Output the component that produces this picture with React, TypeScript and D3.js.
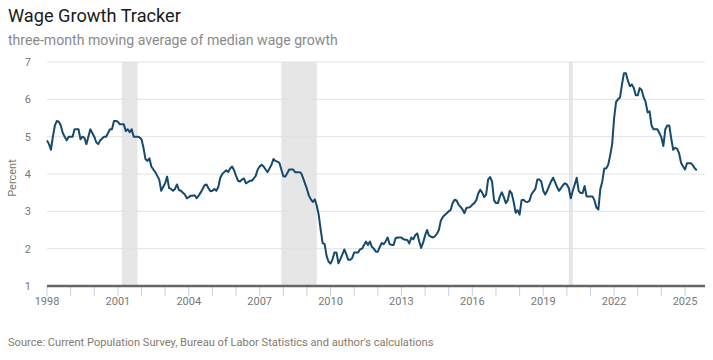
import React from "react";
import * as d3 from "d3";

const START_YEAR = 1998;
// Monthly values (three-month moving average), one row per year, Jan..Dec
const v1998 = [4.9, 4.8, 4.65, 5.0, 5.3, 5.42, 5.4, 5.3, 5.1, 5.0, 4.9, 5.0];
const v1999 = [5.0, 5.0, 5.2, 5.2, 5.2, 4.93, 5.0, 4.97, 4.8, 5.0, 5.2, 5.1];
const v2000 = [5.0, 4.85, 4.8, 4.9, 4.95, 5.0, 5.0, 5.1, 5.2, 5.2, 5.42, 5.42];
const v2001 = [5.4, 5.33, 5.33, 5.33, 5.15, 5.2, 5.12, 5.2, 5.0, 5.0, 5.0, 4.98];
const v2002 = [4.93, 4.7, 4.4, 4.35, 4.42, 4.2, 4.12, 4.05, 3.95, 3.85, 3.55, 3.65];
const v2003 = [3.75, 3.93, 3.62, 3.6, 3.55, 3.6, 3.72, 3.57, 3.55, 3.5, 3.45, 3.35];
const v2004 = [3.38, 3.42, 3.42, 3.43, 3.35, 3.42, 3.5, 3.6, 3.7, 3.72, 3.62, 3.54];
const v2005 = [3.55, 3.6, 3.55, 3.65, 3.9, 4.0, 4.05, 4.1, 4.05, 4.15, 4.2, 4.1];
const v2006 = [3.95, 3.82, 3.8, 3.85, 3.88, 3.75, 3.78, 3.82, 3.82, 3.88, 3.95, 4.12];
const v2007 = [4.2, 4.25, 4.2, 4.12, 4.05, 4.15, 4.25, 4.4, 4.35, 4.33, 4.3, 4.12];
const v2008 = [3.94, 3.93, 4.02, 4.12, 4.12, 4.12, 4.05, 4.05, 4.05, 4.03, 3.9, 3.75];
const v2009 = [3.6, 3.42, 3.32, 3.25, 3.32, 3.15, 2.9, 2.5, 2.15, 2.12, 1.8, 1.65];
const v2010 = [1.6, 1.72, 1.9, 1.9, 1.61, 1.72, 1.85, 1.98, 1.85, 1.7, 1.7, 1.75];
const v2011 = [1.9, 1.9, 1.9, 1.98, 2.0, 2.1, 2.19, 2.1, 2.19, 2.05, 2.0, 1.92];
const v2012 = [1.92, 2.05, 2.15, 2.12, 2.2, 2.3, 2.12, 2.1, 2.1, 2.28, 2.3, 2.3];
const v2013 = [2.3, 2.25, 2.24, 2.23, 2.14, 2.3, 2.25, 2.36, 2.41, 2.2, 2.02, 2.16];
const v2014 = [2.35, 2.5, 2.35, 2.32, 2.3, 2.33, 2.4, 2.5, 2.75, 2.85, 2.9, 2.95];
const v2015 = [3.0, 3.04, 3.22, 3.31, 3.29, 3.18, 3.12, 3.05, 2.95, 3.09, 3.1, 3.12];
const v2016 = [3.18, 3.22, 3.3, 3.48, 3.58, 3.5, 3.38, 3.45, 3.85, 3.92, 3.8, 3.3];
const v2017 = [3.22, 3.22, 3.4, 3.51, 3.38, 3.22, 3.3, 3.55, 3.48, 3.25, 2.96, 3.03];
const v2018 = [2.91, 3.3, 3.31, 3.26, 3.25, 3.28, 3.45, 3.53, 3.6, 3.85, 3.85, 3.8];
const v2019 = [3.55, 3.45, 3.55, 3.68, 3.8, 3.9, 3.78, 3.65, 3.55, 3.62, 3.7, 3.75];
const v2020 = [3.72, 3.62, 3.35, 3.55, 3.72, 3.9, 3.55, 3.49, 3.49, 3.68, 3.4, 3.4];
const v2021 = [3.4, 3.4, 3.3, 3.1, 3.05, 3.6, 3.8, 4.15, 4.15, 4.25, 4.5, 4.8];
const v2022 = [5.5, 5.93, 6.0, 6.05, 6.4, 6.7, 6.7, 6.5, 6.35, 6.4, 6.3, 6.11];
const v2023 = [6.11, 6.3, 6.25, 6.05, 5.93, 5.65, 5.68, 5.3, 5.2, 5.2, 5.2, 5.1];
const v2024 = [4.98, 4.75, 5.2, 5.3, 5.3, 4.95, 4.65, 4.7, 4.68, 4.55, 4.3, 4.2];
const v2025 = [4.12, 4.29, 4.29, 4.29, 4.23, 4.15, 4.1];

const yearRows = [
  v1998, v1999, v2000, v2001, v2002, v2003, v2004, v2005, v2006, v2007,
  v2008, v2009, v2010, v2011, v2012, v2013, v2014, v2015, v2016, v2017,
  v2018, v2019, v2020, v2021, v2022, v2023, v2024, v2025,
];

// Recessions: [start year, start month (1-12), end year, end month]
const recessions: [number, number, number, number][] = [
  [2001, 3, 2001, 11],
  [2007, 12, 2009, 6],
  [2020, 2, 2020, 4],
];

const yTicks = [1, 2, 3, 4, 5, 6, 7];
const xTickYears = d3.range(1998, 2026);
const xLabelYears = [1998, 2001, 2004, 2007, 2010, 2013, 2016, 2019, 2022, 2025];

const title = "Wage Growth Tracker";
const subtitle = "three-month moving average of median wage growth";
const yLabel = "Percent";
const source = "Source: Current Population Survey, Bureau of Labor Statistics and author's calculations";

type Pt = { t: number; v: number };
const data: Pt[] = [];
yearRows.forEach((row, yi) => {
  row.forEach((v, mi) => data.push({ t: START_YEAR + yi + mi / 12, v }));
});

const W = 713;
const H = 360;
const left = 47;
const right = 705;
const top = 62;
const bottom = 286;
const FONT = "Roboto, 'Noto Sans', sans-serif";

export default function App() {
  const x = d3.scaleLinear().domain([1998, 2026]).range([left, left + 28 * 23.63]);
  const y = d3.scaleLinear().domain([1, 7]).range([bottom, top]);
  const line = d3
    .line<Pt>()
    .x((d) => x(d.t))
    .y((d) => y(d.v))
    .curve(d3.curveLinear);

  return (
    <svg width={W} height={H} style={{ position: "absolute", left: 0, top: 0, background: "#fff" }}>
      <rect x={0} y={0} width={W} height={H} fill="#fff" />
      <text x={8} y={22} fontFamily={FONT} fontSize={18.2} fill="#1a1a1a">{title}</text>
      <text x={8} y={45} fontFamily={FONT} fontSize={14.1} fill="#8a8a8a">{subtitle}</text>

      {recessions.map((r, i) => {
        const x0 = x(r[0] + (r[1] - 1) / 12);
        const x1 = x(r[2] + (r[3] - 1) / 12);
        return <rect key={i} x={x0} y={top} width={x1 - x0} height={bottom - top} fill="#e6e6e6" />;
      })}

      {yTicks.map((t) => (
        <g key={t}>
          {t !== 1 && <line x1={left} x2={right} y1={y(t)} y2={y(t)} stroke="#e2e2e2" strokeWidth={1} />}
          <text x={31} y={y(t) + 4} textAnchor="end" fontFamily={FONT} fontSize={11} fill="#777">{t}</text>
        </g>
      ))}

      <text
        transform={`translate(16,${(top + bottom) / 2 + 4}) rotate(-90)`}
        textAnchor="middle"
        fontFamily={FONT}
        fontSize={11}
        fill="#777"
      >
        {yLabel}
      </text>

      {xTickYears.map((yr) => (
        <line key={yr} x1={x(yr)} x2={x(yr)} y1={bottom} y2={bottom + 10} stroke="#c5d3e6" strokeWidth={1} />
      ))}
      <line x1={left} x2={right} y1={bottom} y2={bottom} stroke="#666" strokeWidth={2.5} />
      {xLabelYears.map((yr) => (
        <text key={yr} x={x(yr)} y={305} textAnchor="middle" fontFamily={FONT} fontSize={11} fill="#777">{yr}</text>
      ))}

      <path d={line(data) || ""} fill="none" stroke="#154a6c" strokeWidth={2} strokeLinejoin="round" />

      <text x={8} y={346} fontFamily={FONT} fontSize={11.1} fill="#857a6c">{source}</text>
    </svg>
  );
}
